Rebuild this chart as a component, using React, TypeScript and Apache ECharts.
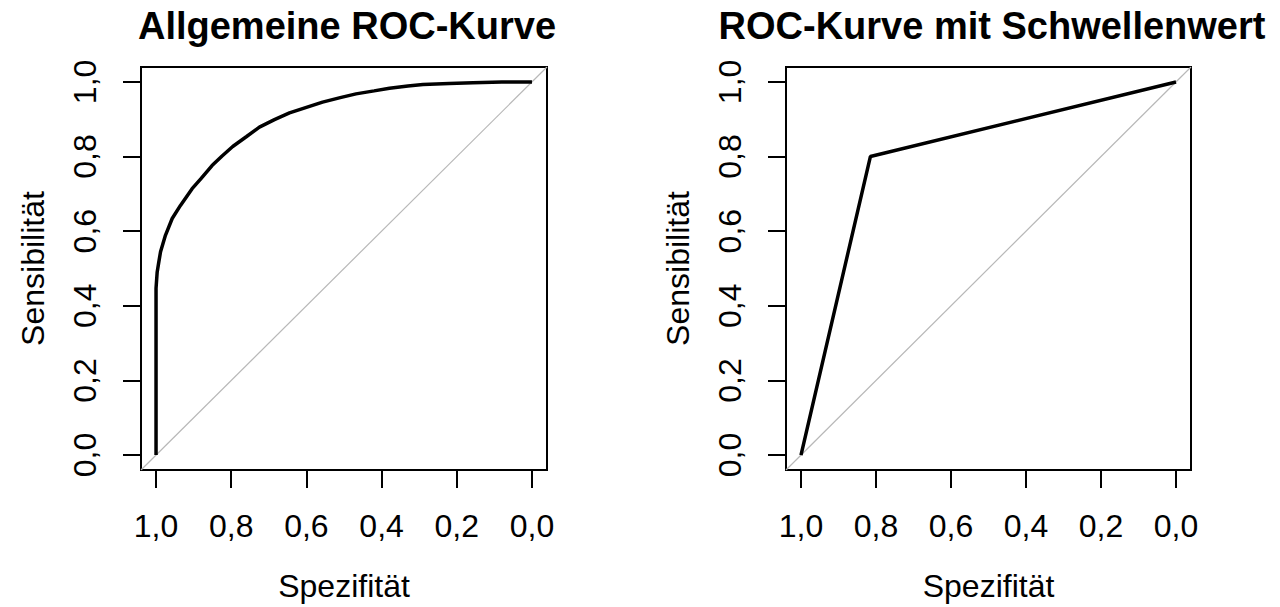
import React, { useEffect, useRef } from 'react';
import * as echarts from 'echarts';

const FONT = '"Liberation Sans", Arial, sans-serif';

const tickValues = [0, 0.2, 0.4, 0.6, 0.8, 1.0];
const titles = ['Allgemeine ROC-Kurve', 'ROC-Kurve mit Schwellenwert'];
const xName = 'Spezifität';
const yName = 'Sensibilität';

// Left panel: general ROC curve (specificity, sensitivity)
const generalSpec = [1.0, 1.0, 0.997, 0.993, 0.988, 0.975, 0.957, 0.935, 0.904, 0.881, 0.851, 0.825, 0.796, 0.76, 0.725, 0.685, 0.645, 0.6, 0.557, 0.51, 0.468, 0.42, 0.379, 0.33, 0.29, 0.22, 0.157, 0.08, 0.0];
const generalSens = [0.0, 0.447, 0.49, 0.515, 0.545, 0.589, 0.634, 0.669, 0.714, 0.74, 0.776, 0.801, 0.827, 0.853, 0.879, 0.899, 0.917, 0.932, 0.946, 0.958, 0.968, 0.976, 0.983, 0.989, 0.993, 0.996, 0.998, 1.0, 1.0];

// Right panel: ROC curve with a single threshold
const thresholdSpec = [1.0, 0.815, 0.0];
const thresholdSens = [0.0, 0.8, 1.0];

// Reference diagonal (spans the whole plot region)
const diagonalSpec = [1.04, -0.04];
const diagonalSens = [-0.04, 1.04];

const fmt = (v: number) => v.toFixed(1).replace('.', ',');
const zip = (a: number[], b: number[]) => a.map((v, i) => [v, b[i]]);

const textStyle = { fontSize: 32, color: '#000', fontFamily: FONT };

function xAxisCfg(gridIndex: number) {
  return {
    type: 'value',
    gridIndex,
    position: 'bottom',
    min: -0.04,
    max: 1.04,
    inverse: true,
    axisLine: { show: false, onZero: false },
    axisTick: { show: true, customValues: tickValues, length: 18, lineStyle: { color: '#000', width: 2 } },
    axisLabel: { customValues: tickValues, formatter: fmt, margin: 40, ...textStyle },
    splitLine: { show: false },
    name: xName,
    nameLocation: 'middle',
    nameGap: 100,
    nameTextStyle: { ...textStyle },
  };
}

function yAxisCfg(gridIndex: number) {
  return {
    type: 'value',
    gridIndex,
    position: 'left',
    min: -0.04,
    max: 1.04,
    axisLine: { show: false, onZero: false },
    axisTick: { show: true, customValues: tickValues, length: 18, lineStyle: { color: '#000', width: 2 } },
    axisLabel: { customValues: tickValues, formatter: fmt, margin: 40, rotate: 90, ...textStyle },
    splitLine: { show: false },
    name: yName,
    nameLocation: 'middle',
    nameGap: 92,
    nameTextStyle: { ...textStyle },
  };
}

const titleStyle = { fontSize: 38, fontWeight: 'bold', color: '#000', fontFamily: FONT };

export default function App() {
  const ref = useRef<HTMLDivElement>(null);
  useEffect(() => {
    if (!ref.current) return;
    const chart = echarts.init(ref.current, undefined, { renderer: 'svg' });
    chart.setOption({
      animation: false,
      backgroundColor: '#fff',
      title: [
        { text: titles[0], left: 342, top: 2, textAlign: 'center', textStyle: titleStyle },
        { text: titles[1], left: 987, top: 2, textAlign: 'center', textStyle: titleStyle },
      ],
      grid: [
        { left: 141, top: 67, width: 406, height: 406, show: true, borderColor: '#000', borderWidth: 2, backgroundColor: 'transparent' },
        { left: 786, top: 67, width: 405, height: 406, show: true, borderColor: '#000', borderWidth: 2, backgroundColor: 'transparent' },
      ],
      xAxis: [xAxisCfg(0), xAxisCfg(1)],
      yAxis: [yAxisCfg(0), yAxisCfg(1)],
      series: [
        { type: 'line', xAxisIndex: 0, yAxisIndex: 0, data: zip(diagonalSpec, diagonalSens), showSymbol: false, lineStyle: { color: '#b8b8b8', width: 1.2 }, silent: true },
        { type: 'line', xAxisIndex: 0, yAxisIndex: 0, data: zip(generalSpec, generalSens), showSymbol: false, lineStyle: { color: '#000', width: 3.5 } },
        { type: 'line', xAxisIndex: 1, yAxisIndex: 1, data: zip(diagonalSpec, diagonalSens), showSymbol: false, lineStyle: { color: '#b8b8b8', width: 1.2 }, silent: true },
        { type: 'line', xAxisIndex: 1, yAxisIndex: 1, data: zip(thresholdSpec, thresholdSens), showSymbol: false, lineStyle: { color: '#000', width: 3.5 } },
      ],
    });
    return () => chart.dispose();
  }, []);
  return <div ref={ref} style={{ position: 'fixed', left: 0, top: 0, width: 1280, height: 607, background: '#fff' }} />;
}
